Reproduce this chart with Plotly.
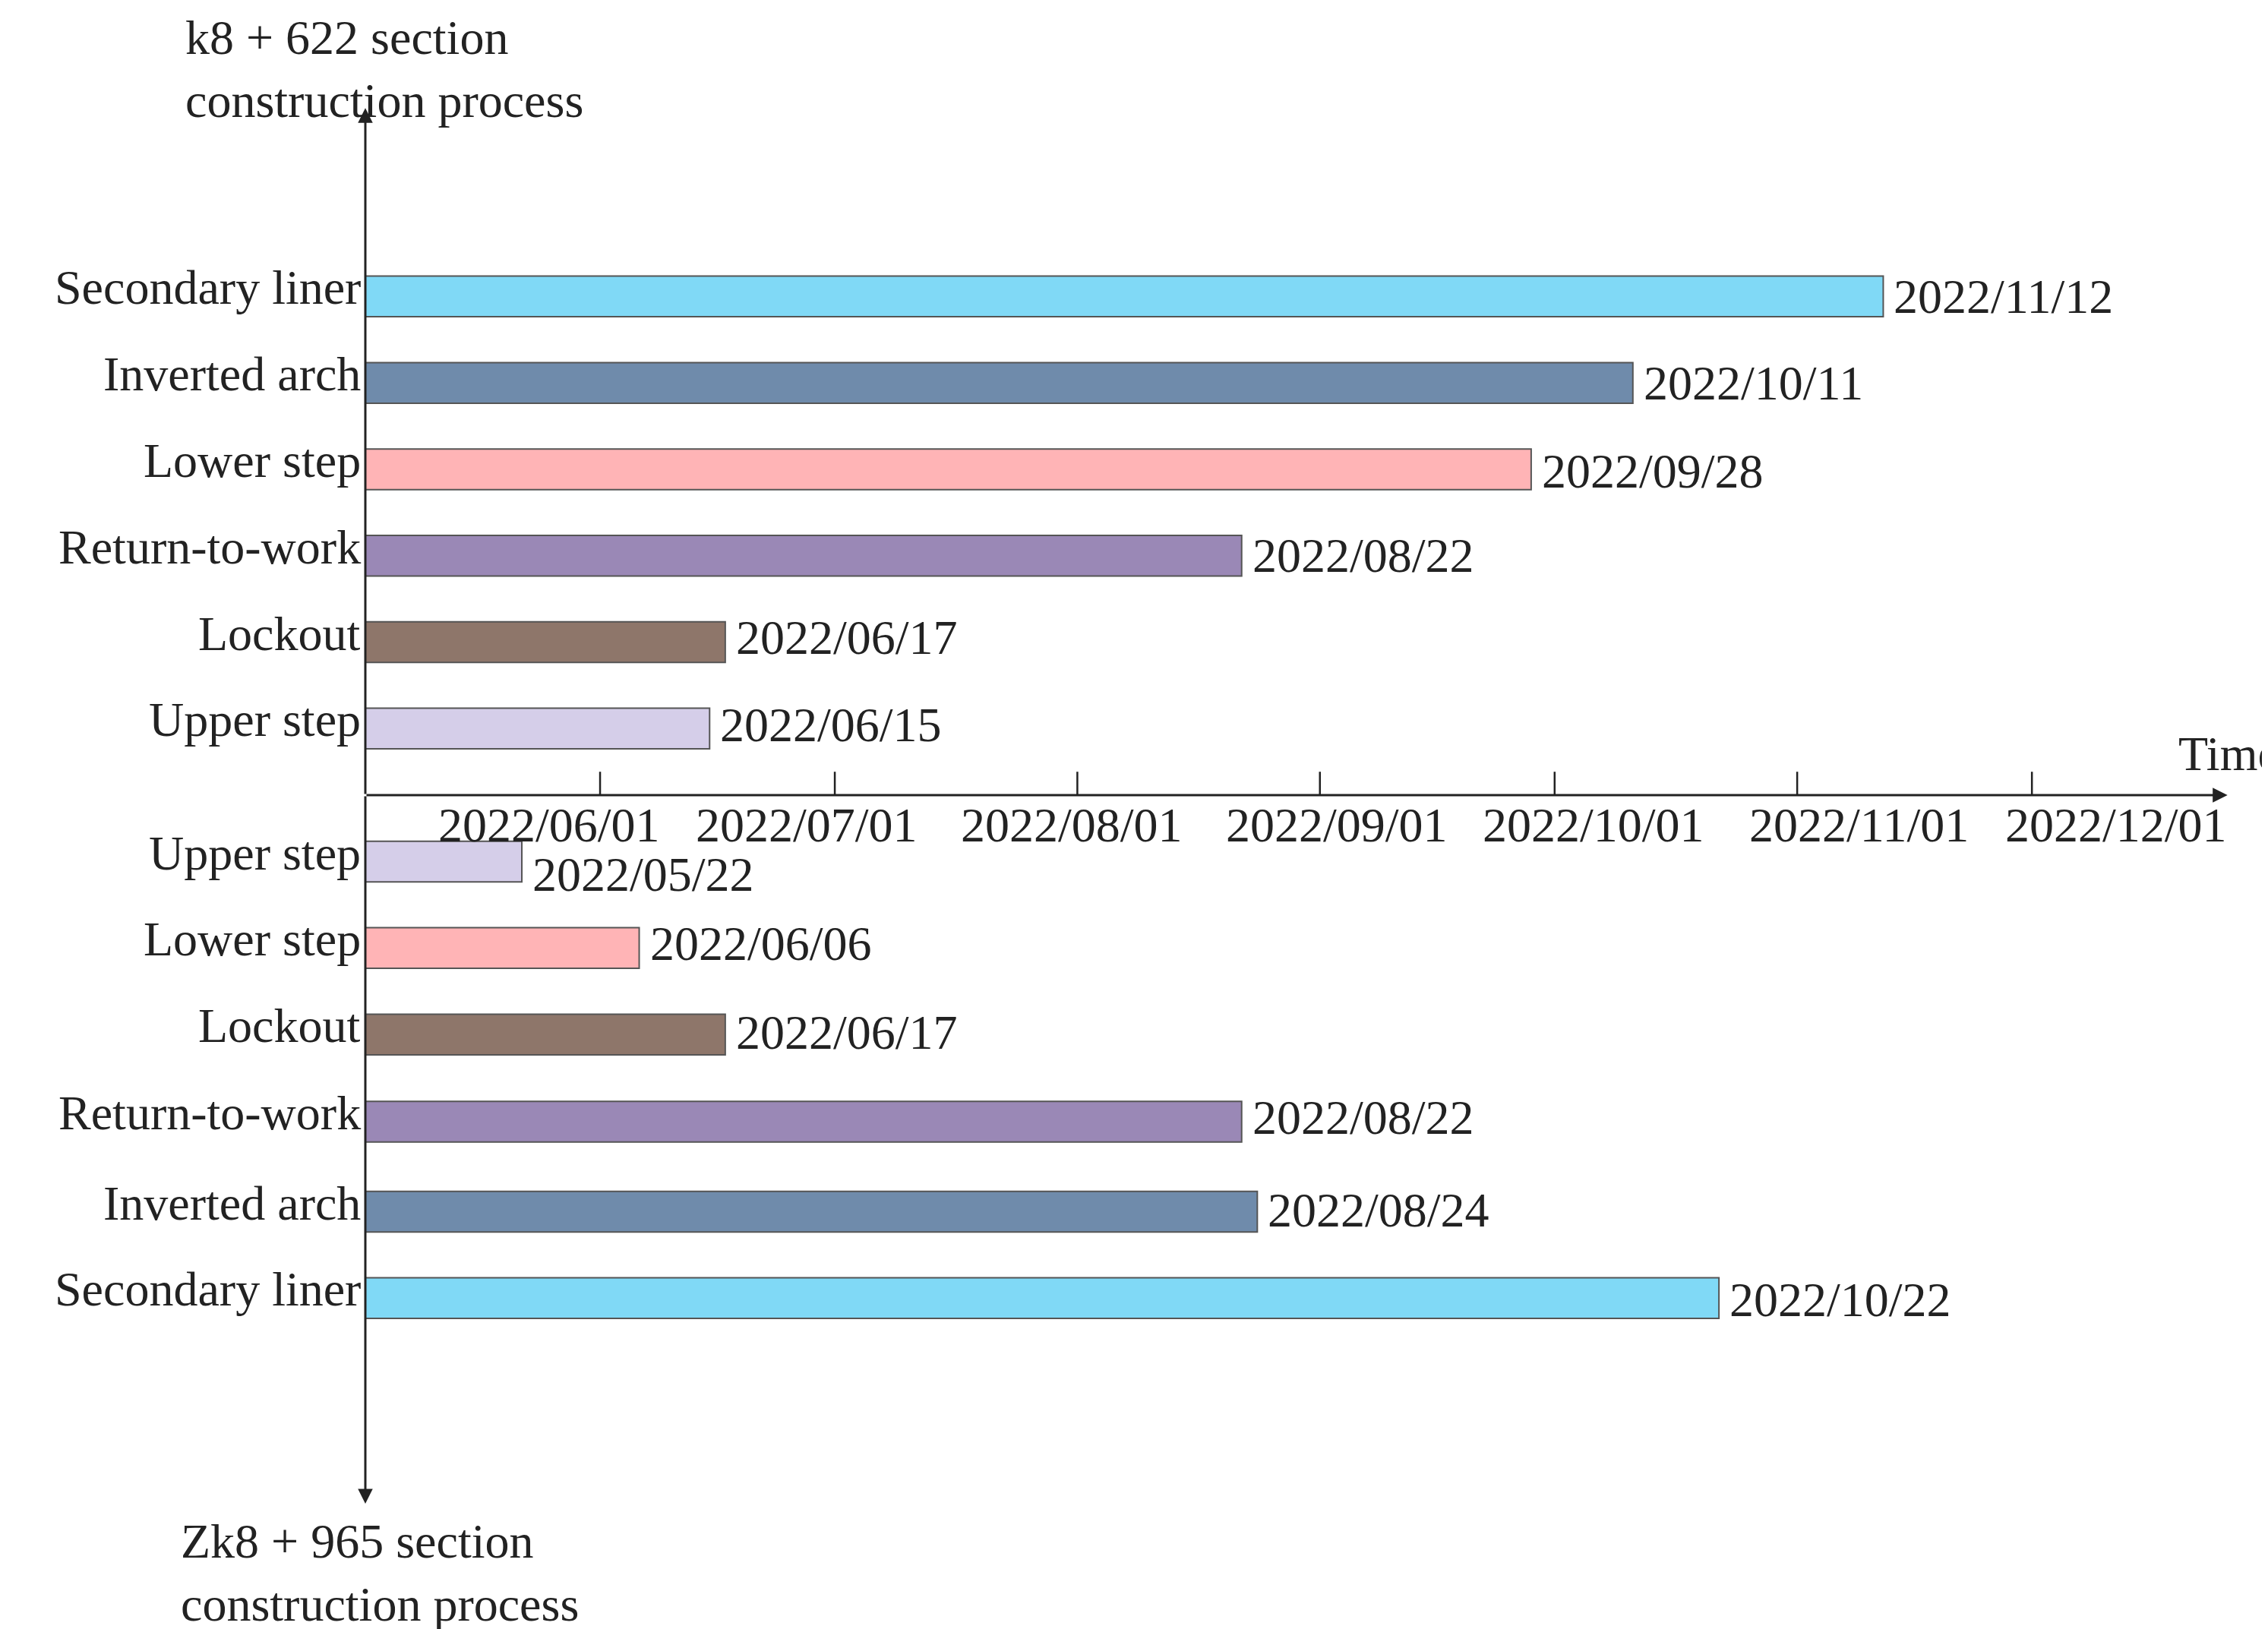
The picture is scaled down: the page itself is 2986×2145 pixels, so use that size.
import plotly.graph_objects as go
import pandas as pd

top_tasks = ["Secondary liner", "Inverted arch", "Lower step", "Return-to-work", "Lockout", "Upper step"]
top_ends = ["2022-11-12", "2022-10-11", "2022-09-28", "2022-08-22", "2022-06-17", "2022-06-15"]
bot_tasks = ["Upper step", "Lower step", "Lockout", "Return-to-work", "Inverted arch", "Secondary liner"]
bot_ends = ["2022-05-22", "2022-06-06", "2022-06-17", "2022-08-22", "2022-08-24", "2022-10-22"]
tick_dates = ["2022-06-01", "2022-07-01", "2022-08-01", "2022-09-01", "2022-10-01", "2022-11-01", "2022-12-01"]
start = "2022-05-02"
xend = "2022-12-26"

colors = {"Secondary liner": "#80D9F6", "Inverted arch": "#6F8BAB", "Lower step": "#FFB4B6",
          "Return-to-work": "#9A88B6", "Lockout": "#8E766A", "Upper step": "#D5CEE9"}

FONT = "Liberation Serif"
FS = 64

fig = go.Figure()
ann = []

def add_group(tasks, ends, ys, dys):
    for t, e, y, dy in zip(tasks, ends, ys, dys):
        dur = (pd.Timestamp(e) - pd.Timestamp(start)).total_seconds() * 1000
        fig.add_trace(go.Bar(y=[y], x=[dur], base=[start], orientation="h", width=0.47,
                             marker=dict(color=colors[t], line=dict(color="#555555", width=2)),
                             showlegend=False))
        ann.append(dict(x=0, xref="paper", y=y + 0.1, yref="y", text=t, showarrow=False,
                        xanchor="right", xshift=-4, font=dict(family=FONT, size=FS, color="#222")))
        ann.append(dict(x=e, xref="x", y=y + dy, yref="y", text=e.replace("-", "/"), showarrow=False,
                        xanchor="left", xshift=12, font=dict(family=FONT, size=FS, color="#222")))

top_y = [5.77 - i for i in range(6)]
bot_y = [-0.77, -1.77, -2.77, -3.78, -4.82, -5.82]
add_group(top_tasks, top_ends, top_y, [0, 0, -0.02, 0, 0.05, 0.04])
add_group(bot_tasks, bot_ends, bot_y, [-0.15, 0.05, 0.02, 0.05, 0.02, -0.02])

shapes = []
for i, d in enumerate(tick_dates):
    shapes.append(dict(type="line", xref="x", yref="y", x0=d, x1=d, y0=0, y1=0.27,
                       line=dict(color="#222", width=2.5)))
    ann.append(dict(x=d, xref="x", y=-0.02, yref="y", text=d.replace("-", "/"), showarrow=False,
                    yanchor="top", xshift=(-35 + 15.5 * i) * 1.914,
                    font=dict(family=FONT, size=FS, color="#222")))

ann.append(dict(x=xend, y=0, xref="x", yref="y", ax=start, ay=0, axref="x", ayref="y", text="",
                showarrow=True, arrowhead=2, arrowsize=1.3, arrowwidth=3, arrowcolor="#222"))
ann.append(dict(x=start, y=7.95, xref="x", yref="y", ax=start, ay=0, axref="x", ayref="y", text="",
                showarrow=True, arrowhead=2, arrowsize=1.3, arrowwidth=3, arrowcolor="#222"))
ann.append(dict(x=start, y=-8.2, xref="x", yref="y", ax=start, ay=0, axref="x", ayref="y", text="",
                showarrow=True, arrowhead=2, arrowsize=1.3, arrowwidth=3, arrowcolor="#222"))

ann.append(dict(x=-0.097, y=1 - 2/1120, xref="paper", yref="paper", xanchor="left", yanchor="top",
                text="k8 + 622 section<br>construction process", align="left", showarrow=False,
                font=dict(family=FONT, size=FS, color="#222")))
ann.append(dict(x=-0.0996, y=1 - 1036/1120, xref="paper", yref="paper", xanchor="left", yanchor="top",
                text="Zk8 + 965 section<br>construction process", align="left", showarrow=False,
                font=dict(family=FONT, size=FS, color="#222")))
ann.append(dict(x=xend, y=0.15, xref="x", yref="y", xanchor="right", yanchor="bottom", text="Time",
                showarrow=False, font=dict(family=FONT, size=FS, color="#222"), xshift=70))

fig.update_layout(
    width=2986, height=2145, paper_bgcolor="white", plot_bgcolor="white",
    margin=dict(l=473, r=51, t=0, b=0), barmode="overlay",
    xaxis=dict(type="date", range=[start, "2022-12-27"], visible=False),
    yaxis=dict(range=[-9.72, 9.13], visible=False),
    shapes=shapes, annotations=ann,
)
fig.write_html("out.html")
